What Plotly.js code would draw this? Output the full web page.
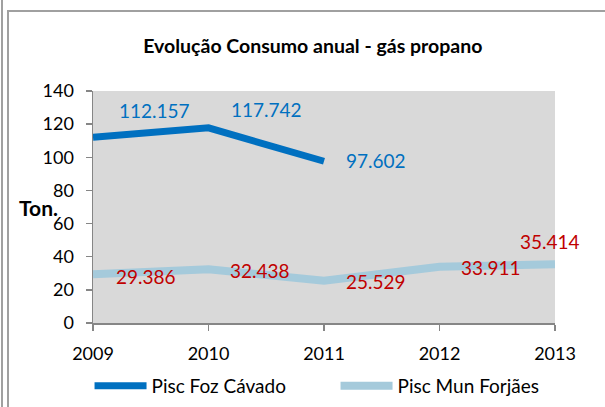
<!DOCTYPE html>
<html><head><meta charset="utf-8">
<script src="https://cdn.plot.ly/plotly-3.0.1.min.js"></script>
<style>
html,body{margin:0;padding:0;background:#fff;}
#wrap{position:relative;width:605px;height:407px;overflow:hidden;}
#chart{position:absolute;left:0;top:0;width:605px;height:407px;}
.ln{position:absolute;background:#a0a0a0;}
</style></head>
<body>
<div id="wrap">
<div id="chart"></div>
<div class="ln" style="left:1px;top:0;width:2px;height:407px;"></div>
<div class="ln" style="left:7px;top:10px;width:2px;height:397px;"></div>
<div class="ln" style="left:7px;top:10px;width:598px;height:2px;"></div>
</div>
<script>
const years = ['2009','2010','2011','2012','2013'];
const fozCavado = [112.157, 117.742, 97.602];
const munForjaes = [29.386, 32.438, 25.529, 33.911, 35.414];
const seriesNames = ['Pisc Foz Cávado', 'Pisc Mun Forjães'];
const yTicks = [0, 20, 40, 60, 80, 100, 120, 140];

const FONT = 'Lato, "Liberation Sans", sans-serif';
const blue = '#0070C0', light = '#A5CADB', red = '#C00000';

const traces = [
  {x: years.slice(0, fozCavado.length), y: fozCavado, name: seriesNames[0], mode: 'lines',
   line: {color: blue, width: 7}, hoverinfo: 'skip'},
  {x: years, y: munForjaes, name: seriesNames[1], mode: 'lines',
   line: {color: light, width: 8}, hoverinfo: 'skip'}
];

const shift1 = [[61, 27], [58, 18], [52, 1]];
const shift2 = [[53, -2], [51, -1], [52, -1], [51, -1], [-5, 23]];
const anns = [];
fozCavado.forEach((v, i) => anns.push({x: i, y: v, text: v.toFixed(3), showarrow: false,
  xshift: shift1[i][0], yshift: shift1[i][1], font: {family: FONT, size: 19, color: blue}}));
munForjaes.forEach((v, i) => anns.push({x: i, y: v, text: v.toFixed(3), showarrow: false,
  xshift: shift2[i][0], yshift: shift2[i][1], font: {family: FONT, size: 19, color: red}}));
anns.push({xref: 'paper', yref: 'paper', x: -0.148, xanchor: 'left', y: 0.5, yanchor: 'middle',
  text: '<b>Ton.</b>', showarrow: false, font: {family: FONT, size: 21, color: '#000'}});

const layout = {
  width: 605, height: 407,
  margin: {l: 93, r: 0, t: 91, b: 84},
  paper_bgcolor: 'rgba(0,0,0,0)', plot_bgcolor: '#D9D9D9',
  title: {text: '<b>Evolução Consumo anual - gás propano</b>', x: 0.517, xanchor: 'center',
    y: 0.887, yanchor: 'middle', yref: 'container', xref: 'container',
    font: {family: FONT, size: 19.5, color: '#000'}},
  xaxis: {type: 'category', range: [0, 4], domain: [0, 462 / 512], showgrid: false, zeroline: false,
    showline: true, linecolor: '#868686', linewidth: 1.5, ticks: 'outside', ticklen: 6,
    tickcolor: '#868686', tickwidth: 1.5, ticklabelstandoff: 8,
    tickfont: {family: FONT, size: 18, color: '#000'}},
  yaxis: {range: [0, 140], tickvals: yTicks, showgrid: false, zeroline: false,
    showline: true, linecolor: '#868686', linewidth: 1.5, ticks: 'outside', ticklen: 6,
    tickcolor: '#868686', tickwidth: 1.5, ticklabelstandoff: 8,
    tickfont: {family: FONT, size: 18, color: '#000'}},
  showlegend: true,
  legend: {orientation: 'h', xref: 'container', yref: 'container', x: 0.148, xanchor: 'left',
    y: 0.052, yanchor: 'middle', itemwidth: 52, entrywidth: 179,
    font: {family: FONT, size: 19, color: '#000'}, bgcolor: 'rgba(0,0,0,0)'},
  annotations: anns
};
Plotly.newPlot('chart', traces, layout, {displayModeBar: false, staticPlot: true});
</script>
</body></html>
